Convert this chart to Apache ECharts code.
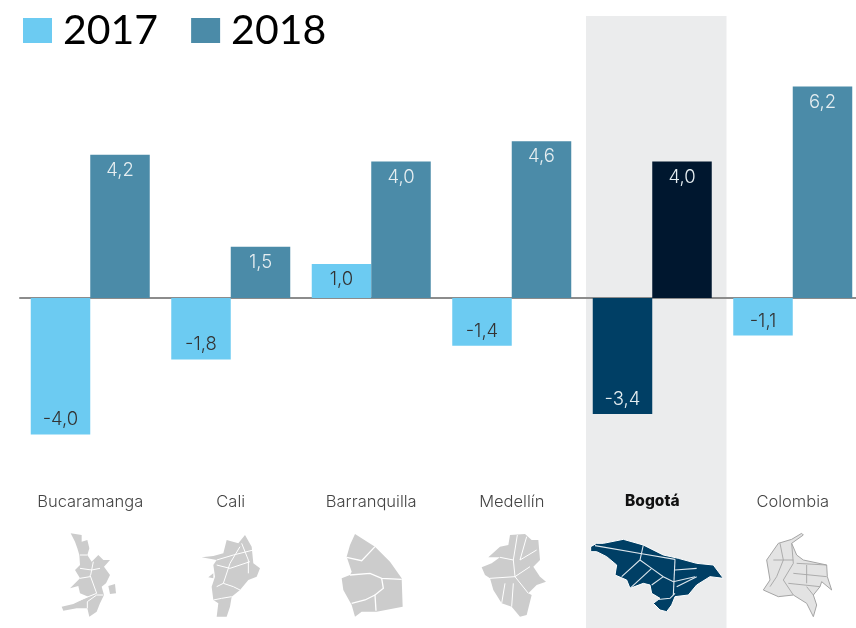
<!DOCTYPE html>
<html><head><meta charset="utf-8">
<style>html,body{margin:0;padding:0;background:#fff}#c{width:856px;height:628px}</style>
<script src="https://cdn.jsdelivr.net/npm/echarts@6/dist/echarts.min.js"></script>
</head><body><div id="c"></div>
<script>
const categories = ['Bucaramanga','Cali','Barranquilla','Medellín','Bogotá','Colombia'];
const values2017 = [-4.0,-1.8,1.0,-1.4,-3.4,-1.1];
const values2018 = [4.2,1.5,4.0,4.6,4.0,6.2];
const highlight = 'Bogotá';
const colors = {c2017:'#6ccbf2', c2018:'#4b8ba8', h2017:'#003f65', h2018:'#00172f', band:'#ebeced'};

// Map silhouettes (page px = x/3 + ox, y/3 + 480)
const shapes = [
 {ox:0, fill:'#cccccc', line:'#ffffff', lw:1,
  outer:[[[212,160],[245,165],[245,185],[262,180],[268,205],[262,225],[275,245],[295,225],[310,240],[330,240],[312,260],[330,285],[318,310],[305,320],[312,345],[300,370],[290,395],[268,410],[262,385],[230,385],[190,392],[185,380],[220,372],[265,350],[240,340],[235,318],[210,325],[240,295],[225,270],[240,255],[238,225],[232,205],[225,185]],
         [[325,318],[345,312],[348,340],[330,342]]],
  inner:[[[240,265],[275,270],[300,265]],[[270,285],[290,340],[240,360]],[[280,245],[272,285]],[[240,225],[262,225]],[[262,385],[262,365],[290,345],[310,345]],[[240,295],[270,290]]]},
 {ox:0, fill:'#cccccc', line:'#ffffff', lw:1,
  outer:[[[735,165],[755,200],[760,250],[780,265],[770,290],[745,300],[720,330],[695,350],[690,380],[680,410],[650,410],[655,370],[640,360],[635,320],[645,290],[640,255],[650,240],[605,232],[640,228],[670,220],[680,180],[715,190]],
         [[625,292],[640,280],[640,295]]],
  inner:[[[650,240],[700,225],[760,210]],[[720,200],[690,250],[670,310],[650,320]],[[725,190],[745,240],[745,280]],[[670,310],[700,320],[720,330]],[[640,360],[665,355],[695,350]],[[650,255],[690,265],[750,245]]]},
 {ox:0, fill:'#cccccc', line:'#ffffff', lw:1.3,
  outer:[[[1065,162],[1125,200],[1170,245],[1205,295],[1208,380],[1130,395],[1085,395],[1065,410],[1055,375],[1030,330],[1025,295],[1050,285],[1055,275],[1040,230],[1050,195]]],
  inner:[[[1040,232],[1085,242],[1125,200]],[[1050,285],[1110,280],[1145,295],[1205,298]],[[1145,295],[1150,325],[1125,345],[1128,392]],[[1055,370],[1095,360],[1125,345]]]},
 {ox:430, fill:'#cccccc', line:'#ffffff', lw:1,
  outer:[[[240,165],[285,162],[305,180],[325,180],[330,240],[310,260],[330,290],[348,305],[320,315],[295,340],[305,345],[290,405],[270,410],[245,380],[215,370],[190,330],[180,295],[165,285],[155,262],[185,250],[210,232],[175,232],[210,200],[235,195]]],
  inner:[[[262,165],[250,240],[255,290]],[[290,170],[270,240],[320,210]],[[210,232],[250,240]],[[180,295],[255,290],[295,340]],[[255,290],[300,260]],[[225,310],[215,370]],[[250,310],[245,380]]]},
 {ox:430, fill:'#003f65', line:'#dfe8ee', lw:1.1, halo:'#ffffff',
  outer:[[[482,200],[500,190],[520,190],[580,178],[640,195],[700,225],[745,235],[800,250],[850,255],[880,295],[840,290],[800,315],[775,345],[735,350],[725,375],[710,395],[690,390],[670,370],[690,355],[665,340],[660,315],[640,310],[600,325],[590,300],[555,285],[560,255],[530,230],[500,215],[482,215]]],
  inner:[[[495,197],[640,222],[735,238]],[[640,195],[630,240],[575,290]],[[630,240],[665,265],[700,290],[730,305],[795,290]],[[665,265],[600,325]],[[700,290],[665,315]],[[735,238],[730,345]],[[740,320],[800,290]],[[735,270],[800,265]],[[670,360],[720,355],[735,340]]]},
 {ox:430, fill:'#e3e3e3', line:'#a5a5a5', lw:0.9, halo:'#a5a5a5',
  outer:[[[1115,160],[1120,165],[1085,190],[1100,225],[1120,240],[1190,255],[1192,290],[1205,330],[1175,305],[1170,320],[1150,345],[1160,375],[1150,410],[1130,370],[1090,345],[1045,350],[1000,330],[1020,300],[1010,240],[1045,190],[1085,178]]],
  inner:[[[1050,190],[1060,240],[1040,290],[1020,320]],[[1085,190],[1090,250],[1060,300],[1090,345]],[[1100,250],[1190,255]],[[1090,280],[1190,290]],[[1130,255],[1130,310]],[[1075,310],[1170,320]],[[1130,320],[1150,345]],[[1030,240],[1090,240]]]}
];

const chart = echarts.init(document.getElementById('c'));
const label = (v, dark) => ({
  show:true,
  position: v < 0 ? 'insideBottom' : 'insideTop',
  distance: v < 0 ? 5 : 6,
  fontFamily:'Inter', fontWeight:300, fontSize:18.5,
  color: dark ? '#e6eef1' : '#333333',
  formatter: p => p.value.toFixed(1).replace('.',',')
});
const makeData = (vals, base, hi, dark) => vals.map((v,i) => {
  const h = categories[i] === highlight;
  return {value:v, itemStyle:{color:h?hi:base}, label:label(v, dark||h)};
});
chart.setOption({
  animation:false,
  backgroundColor:'#fff',
  legend:{left:23,top:10,padding:0,itemWidth:29,itemHeight:25,itemGap:33,icon:'rect',
    textStyle:{fontFamily:'Lato',fontSize:41,color:'#000',padding:[8,0,0,6]},
    selectedMode:false,
    data:[{name:'2017',itemStyle:{color:colors.c2017}},{name:'2018',itemStyle:{color:colors.c2018}}]},
  grid:{left:20,width:843,top:59.3,height:409.2,containLabel:false,outerBoundsMode:'none'},
  xAxis:[
    {type:'category',data:categories,position:'bottom',axisLine:{show:false,onZero:false},axisTick:{show:false},
     axisLabel:{margin:25,interval:0,fontFamily:'Inter',fontWeight:300,fontSize:16.5,color:'#444',
       formatter:v => v===highlight ? '{b|'+v+'}' : v,
       rich:{b:{fontFamily:'Inter',fontWeight:800,fontSize:15.5,color:'#111'}}}},
    {type:'category',data:categories,position:'bottom',axisLine:{onZero:true,lineStyle:{color:'#8c8c8c',width:2}},axisTick:{show:false},axisLabel:{show:false}}
  ],
  yAxis:{type:'value',min:-5,max:7,interval:1,show:false,splitLine:{show:false}},
  series:[
    {name:'2017',type:'bar',barWidth:59.5,barGap:0,data:makeData(values2017,colors.c2017,colors.h2017,false)},
    {name:'2018',type:'bar',barWidth:59.5,barGap:0,data:makeData(values2018,colors.c2018,colors.h2018,true)}
  ]
});
const cx = chart.convertToPixel({xAxisIndex:0}, highlight);
const bw = chart.getModel().getComponent('xAxis',0).axis.getBandWidth();
const els = [{type:'rect',z:-1,silent:true,shape:{x:cx-bw/2+4,y:16,width:bw,height:612},style:{fill:colors.band}}];
shapes.forEach(s => {
  const pt = p => [p[0]/3+s.ox, p[1]/3+480];
  s.outer.forEach(o => els.push({type:'polygon',z:5,silent:true,shape:{points:o.map(pt)},style:{fill:s.fill,stroke:s.halo||null,lineWidth:s.halo?1:0}}));
  s.inner.forEach(o => els.push({type:'polyline',z:6,silent:true,shape:{points:o.map(pt)},style:{fill:null,stroke:s.line,lineWidth:s.lw}}));
});
chart.setOption({graphic:{elements:els}});
</script></body></html>
